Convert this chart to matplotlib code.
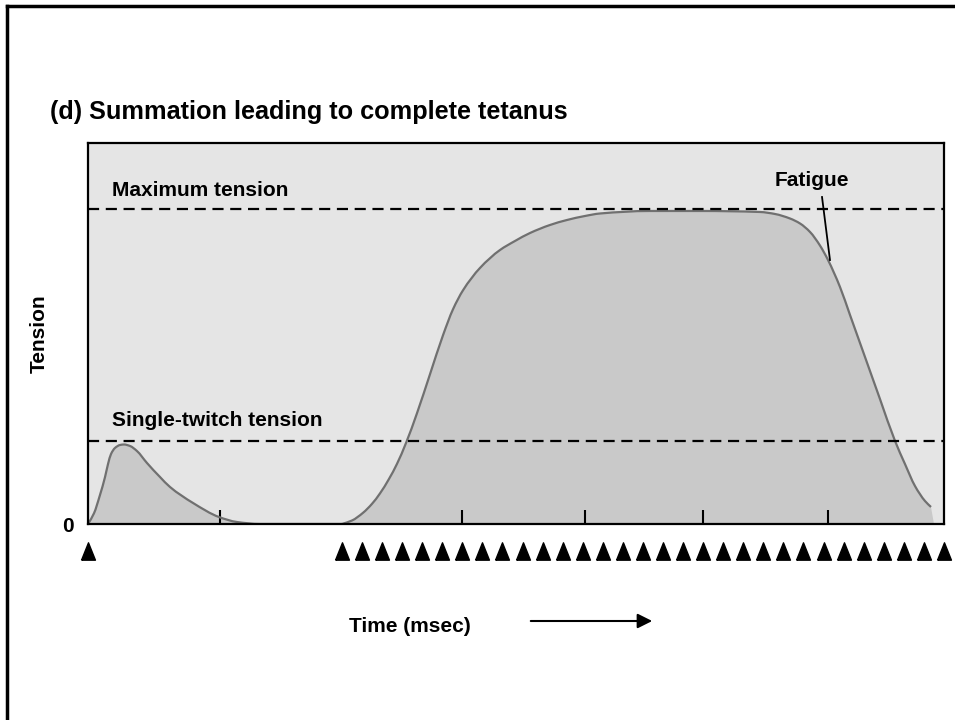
import matplotlib
matplotlib.use("Agg")
import matplotlib.pyplot as plt
from matplotlib.lines import Line2D
from matplotlib.path import Path
from matplotlib.patches import PathPatch, FancyArrowPatch
import matplotlib.transforms as mtransforms

plt.rcParams['font.family'] = ['Liberation Sans', 'DejaVu Sans']
plt.rcParams['font.weight'] = 'bold'

# ---- data (time in arbitrary units 0-100, tension in % of maximum) ----
twitch_t = [0, 0.70, 1.40, 1.99, 2.34, 2.69, 3.15, 3.74, 4.21, 4.91, 5.72,
            6.89, 8.41, 9.58, 12.27, 15.30, 17.41, 20.09, 24.77, 29.67]
twitch_y = [0, 3.4, 9.21, 14.92, 19.05, 22.22, 24.13, 25.08, 25.24, 24.76,
            23.17, 19.37, 14.92, 11.75, 6.67, 2.22, 0.63, 0, 0, 0]

tetanus_t = [29.67, 30.84, 32.13, 33.18, 34.11, 35.16, 36.10, 37.15, 38.43,
             39.95, 41.47, 42.64, 43.81, 45.79, 48.13, 49.88, 51.64, 53.97,
             55.96, 58.06, 59.81, 65.65, 71.50, 78.50, 80.26, 82.01, 83.18,
             84.35, 85.51, 86.45, 87.85, 89.02, 90.77, 92.52, 94.28, 95.44,
             96.61, 97.78, 98.48]
tetanus_y = [0, 1.11, 3.56, 6.41, 9.71, 14.29, 19.11, 25.71, 35.14,
             47.52, 59.90, 68.16, 74.19, 81.27, 86.98, 89.84, 92.38, 94.92,
             96.51, 97.78, 98.57, 99.37, 99.37, 99.05, 98.41, 96.98, 95.40,
             92.70, 88.41, 83.81, 75.24, 66.35, 53.02, 39.68, 26.35, 19.05,
             12.06, 7.30, 5.40]
tetanus_fill_end = 98.83

max_tension = 100.0
single_twitch_tension = 26.3

stimuli_single = [0]
stimuli_train = [29.67 + 2.344 * i for i in range(31)]

xtick_pos = [15.42, 43.69, 58.06, 71.85, 86.45]

fatigue_point = (86.68, 83.8)
fatigue_text = (84.6, 109.2)


def smooth_path(xs, ys, close_to=None):
    """Monotone cubic (PCHIP-style) curve through the points as a Bezier path."""
    n = len(xs)
    h = [xs[i + 1] - xs[i] for i in range(n - 1)]
    s = [(ys[i + 1] - ys[i]) / h[i] for i in range(n - 1)]
    d = [0.0] * n
    d[0], d[-1] = s[0], s[-1]
    for i in range(1, n - 1):
        if s[i - 1] * s[i] <= 0:
            d[i] = 0.0
        else:
            w1 = 2 * h[i] + h[i - 1]
            w2 = h[i] + 2 * h[i - 1]
            d[i] = (w1 + w2) / (w1 / s[i - 1] + w2 / s[i])
    verts = [(xs[0], ys[0])]
    codes = [Path.MOVETO]
    for i in range(n - 1):
        c1 = (xs[i] + h[i] / 3, ys[i] + d[i] * h[i] / 3)
        c2 = (xs[i + 1] - h[i] / 3, ys[i + 1] - d[i + 1] * h[i] / 3)
        verts += [c1, c2, (xs[i + 1], ys[i + 1])]
        codes += [Path.CURVE4] * 3
    if close_to is not None:
        verts += [(close_to, 0), (xs[0], 0), (xs[0], 0)]
        codes += [Path.LINETO, Path.LINETO, Path.CLOSEPOLY]
    return Path(verts, codes)


# ---- figure ----
fig = plt.figure(figsize=(9.55, 7.2), dpi=100)
ax = fig.add_axes([88/955, 1-524/720, 856/955, 381/720])
ax.set_facecolor('#e5e5e5')
ax.set_xlim(0, 100)
ax.set_ylim(0, 120.95)

fill_color = '#c9c9c9'
line_color = '#707070'

ax.add_patch(PathPatch(smooth_path(twitch_t, twitch_y, close_to=twitch_t[-1]),
                       facecolor=fill_color, edgecolor='none', zorder=1))
ax.add_patch(PathPatch(smooth_path(twitch_t, twitch_y), facecolor='none',
                       edgecolor=line_color, lw=1.6, zorder=2))
ax.add_patch(PathPatch(smooth_path(tetanus_t, tetanus_y,
                                   close_to=tetanus_fill_end),
                       facecolor=fill_color, edgecolor='none', zorder=1))
ax.add_patch(PathPatch(smooth_path(tetanus_t, tetanus_y), facecolor='none',
                       edgecolor=line_color, lw=1.6, zorder=2))

dash = (0, (5, 3))
ax.axhline(max_tension, color='black', lw=1.6, ls=dash, zorder=3)
ax.axhline(single_twitch_tension, color='black', lw=1.6, ls=dash, zorder=3)

ax.text(2.8, 106, 'Maximum tension', fontsize=15, fontweight='bold',
        va='center', ha='left')
ax.text(2.8, 33.0, 'Single-twitch tension', fontsize=15, fontweight='bold',
        va='center', ha='left')
ax.text(fatigue_text[0], fatigue_text[1], 'Fatigue', fontsize=15,
        fontweight='bold', va='center', ha='center')
ax.plot([85.75, fatigue_point[0]], [103.8, fatigue_point[1]], color='black',
        lw=1.3, zorder=4)

for s in ax.spines.values():
    s.set_linewidth(1.6)
    s.set_color('black')
    s.set_zorder(5)

ax.set_xticks(xtick_pos)
ax.set_xticklabels([])
ax.tick_params(axis='x', direction='in', length=10, width=1.5, color='black')
ax.set_yticks([0])
ax.set_yticklabels(['0'], fontsize=15, fontweight='bold')
ax.tick_params(axis='y', length=0, pad=10)

ax.set_ylabel('Tension', fontsize=15, fontweight='bold')
ax.yaxis.set_label_coords(-0.046, 0.5)

# stimulus markers
tri = [(-0.8, -1), (0.8, -1), (0, 1), (-0.8, -1)]
trans = mtransforms.blended_transform_factory(ax.transData, ax.transAxes)
ax.plot(stimuli_single + stimuli_train,
        [-0.071] * (len(stimuli_single) + len(stimuli_train)),
        ls='none', marker=tri, ms=12.5, color='black', transform=trans,
        clip_on=False)

# title
fig.text(50/955, 1-112/720, '(d) Summation leading to complete tetanus',
         fontsize=18.2, fontweight='bold', va='center', ha='left')

# time label and arrow
fig.text(410/955, 1-626/720, 'Time (msec)', fontsize=15, fontweight='bold',
         va='center', ha='center')
fig.add_artist(FancyArrowPatch(
    (528/955, 1-621/720), (655/955, 1-621/720), transform=fig.transFigure,
    arrowstyle='-|>', mutation_scale=22, lw=1.5, color='black'))

# outer frame (top and left edges)
fig.add_artist(Line2D([7/955, 7/955], [0, 1-6/720], transform=fig.transFigure,
                      color='black', lw=2.5))
fig.add_artist(Line2D([7/955, 1], [1-6/720, 1-6/720], transform=fig.transFigure,
                      color='black', lw=2.5))

fig.savefig('out.png', dpi=100)
